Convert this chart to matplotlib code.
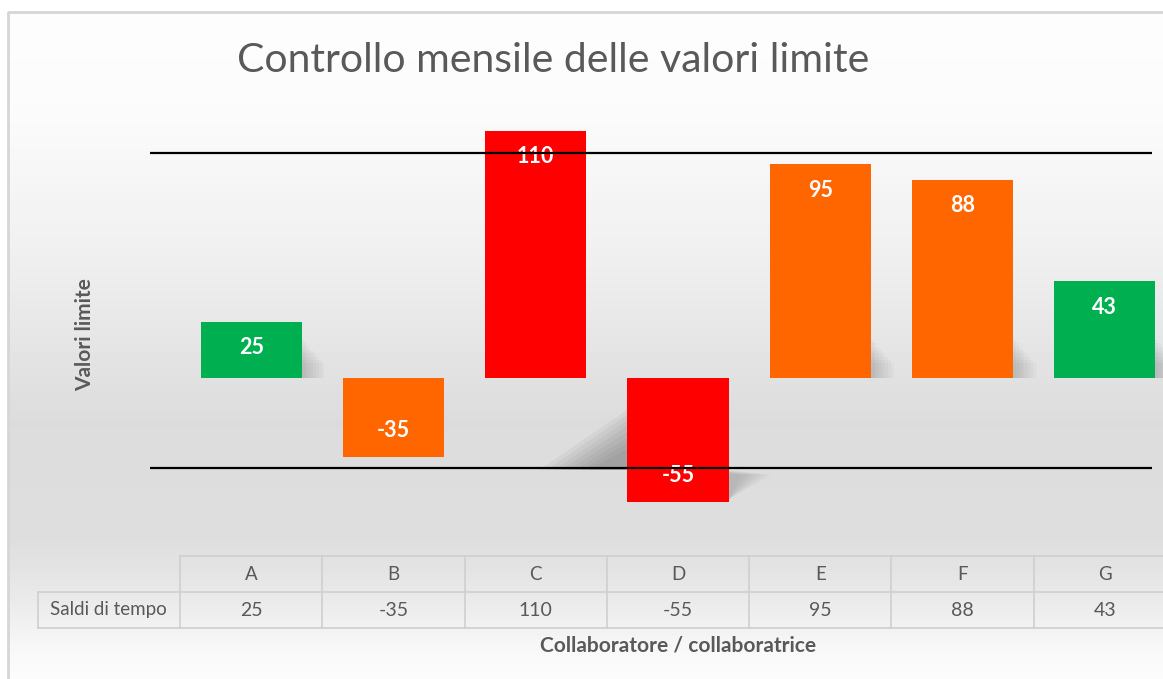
import matplotlib.pyplot as plt
import numpy as np

plt.rcParams['font.family'] = ['Lato', 'DejaVu Sans']

categories = ['A', 'B', 'C', 'D', 'E', 'F', 'G']
values = [25, -35, 110, -55, 95, 88, 43]
colors = ['#00B050', '#FF6600', '#FF0000', '#FF0000', '#FF6600', '#FF6600', '#00B050']
upper_limit = 100
lower_limit = -40
row_label = 'Saldi di tempo'
title = 'Controllo mensile delle valori limite'
x_title = 'Collaboratore / collaboratrice'
y_title = 'Valori limite'

W, H = 1163, 679
fig = plt.figure(figsize=(W / 100, H / 100), dpi=100)

# background: white fading to grey and back to white, inside a light frame
bg = fig.add_axes([0, 0, 1, 1], zorder=-10)
bg.set_xlim(0, W)
bg.set_ylim(H, 0)
bg.axis('off')
ys = np.arange(12, H)
stops_y = [12, 110, 250, 420, 540, 600, 650, 679]
stops_c = [253, 251, 240, 220, 222, 234, 248, 252]
col = np.interp(ys, stops_y, stops_c) / 255
bg.imshow(col[:, None], cmap='gray', vmin=0, vmax=1, aspect='auto',
          extent=(8, W + 5, H, 12), interpolation='nearest')
bg.plot([8, 8, W + 5], [H + 5, 12, 12], color='#d6d6d6', lw=2)

# main plot area
px = 2.25  # pixels per unit
zero_px = 378
ax_top, ax_bot = 100, 540
left = 180 / W
width = 996 / W
ax = fig.add_axes([left, (H - ax_bot) / H, width, (ax_bot - ax_top) / H])
ax.set_xlim(-0.5, len(categories) - 0.5)
ax.set_ylim(-(ax_bot - zero_px) / px, (zero_px - ax_top) / px)
ax.axis('off')

x = np.arange(len(categories))
bw = 0.71

# soft shadows
for xi, v in zip(x, values):
    for k in range(8):
        a = 0.03
        if v >= 0 and v < upper_limit:
            g = k * 0.02
            poly = [(xi - bw / 2, 0), (xi + bw / 2 + 0.02 + g, 0),
                    (xi + bw / 2 + 0.02 + g, 17 - k * 1.5), (xi - bw / 2, 17 - k * 1.5)]
        elif v < lower_limit:
            top = v + 17 + 24 - k * 2.5
            base = v + 14
            poly = [(xi - bw / 2 - 0.62 + k * 0.05, base), (xi - bw / 2, base),
                    (xi - bw / 2, top)]
            ax.add_patch(plt.Polygon(poly, closed=True, facecolor='#404040',
                                     edgecolor='none', alpha=0.055, zorder=1))
            poly = [(xi + bw / 2, v + 1), (xi + bw / 2 + 0.3 - k * 0.03, v + 12),
                    (xi + bw / 2, v + 12 + 2 - k * 0.2)]
        else:
            continue
        ax.add_patch(plt.Polygon(poly, closed=True, facecolor='#404040',
                                 edgecolor='none', alpha=a, zorder=1))

ax.bar(x, values, width=bw, color=colors, zorder=2)

for xi, v in zip(x, values):
    yy = v - 11.5 if v >= 0 else v + 11.5
    ax.text(xi, yy, str(v), ha='center', va='center', color='white',
            fontsize=15.5, fontweight='bold', zorder=3)

ax.hlines([upper_limit, lower_limit], -0.71, 6.33, colors='black', lw=1.6,
          zorder=4, clip_on=False)

# data table under the chart
tab = fig.add_axes([left, (H - 628) / H, width, 72 / H], sharex=ax)
tab.set_ylim(0, 2)
tab.axis('off')
gc = '#cfcfcf'
n = len(categories)
tab.plot([-0.5, n - 0.5], [2, 2], color=gc, lw=1.2, clip_on=False)
tab.plot([-1.5, n - 0.5], [1, 1], color=gc, lw=1.2, clip_on=False)
tab.plot([-1.5, n - 0.5], [0, 0], color=gc, lw=1.2, clip_on=False)
tab.plot([-1.5, -1.5], [0, 1], color=gc, lw=1.2, clip_on=False)
for i in range(n + 1):
    tab.plot([i - 0.5, i - 0.5], [0, 2], color=gc, lw=1.2, clip_on=False)
for i, (c, v) in enumerate(zip(categories, values)):
    tab.text(i, 1.5, c, ha='center', va='center', fontsize=13.5, color='#595959')
    tab.text(i, 0.5, str(v), ha='center', va='center', fontsize=14, color='#595959')
tab.text(-1.0, 0.5, row_label, ha='center', va='center', fontsize=13.5, color='#595959')

fig.text(553 / W, 1 - 60 / H, title, ha='center', va='center', fontsize=29.5,
         color='#595959')
fig.text(678 / W, 1 - 646 / H, x_title, ha='center', va='center', fontsize=15,
         fontweight='bold', color='#595959')
fig.text(85 / W, 1 - 335 / H, y_title, ha='center', va='center', fontsize=15,
         fontweight='bold', color='#595959', rotation=90)

fig.savefig('out.png', dpi=100)
